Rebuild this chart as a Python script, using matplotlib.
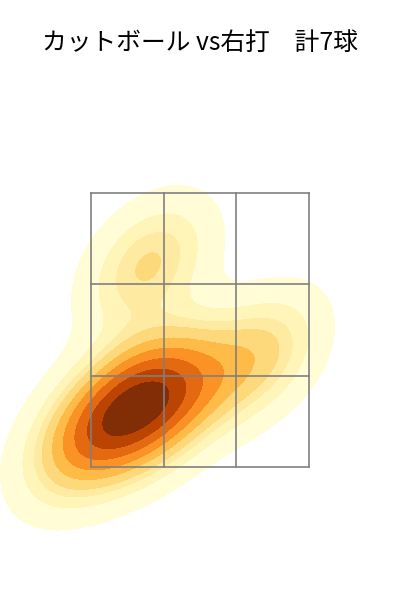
import matplotlib
matplotlib.use("Agg")
import matplotlib.pyplot as plt
import seaborn as sns
import numpy as np

title = "カットボール vs右打　計7球"
# pitch locations (ft), plate_x / plate_z
plate_x = [-0.38, 0.43, -0.88, -0.66, -0.44, -0.37, -0.11]
plate_z = [2.98, 2.30, 1.66, 1.92, 1.81, 2.10, 2.05]

zone_x = [-0.8, 0.8]
zone_z = [1.5, 3.5]

plt.rcParams['font.family'] = ['Noto Sans CJK JP', 'DejaVu Sans']

fig = plt.figure(figsize=(4, 6), dpi=100)
ax = fig.add_axes([0, 0, 1, 1])
sns.kdeplot(x=plate_x, y=plate_z, fill=True, cmap="YlOrBr", ax=ax)

# strike zone 3x3
xs = np.linspace(zone_x[0], zone_x[1], 4)
zs = np.linspace(zone_z[0], zone_z[1], 4)
for x in xs:
    ax.plot([x, x], zone_z, color="gray", lw=1.2)
for z in zs:
    ax.plot(zone_x, [z, z], color="gray", lw=1.2)

ax.set_xlim(-1.468, 1.468)
ax.set_ylim(0.53, 4.91)
ax.axis("off")
fig.text(0.5, 1 - 43 / 600, title, ha="center", va="center", fontsize=17.8)
fig.savefig("out.png")
